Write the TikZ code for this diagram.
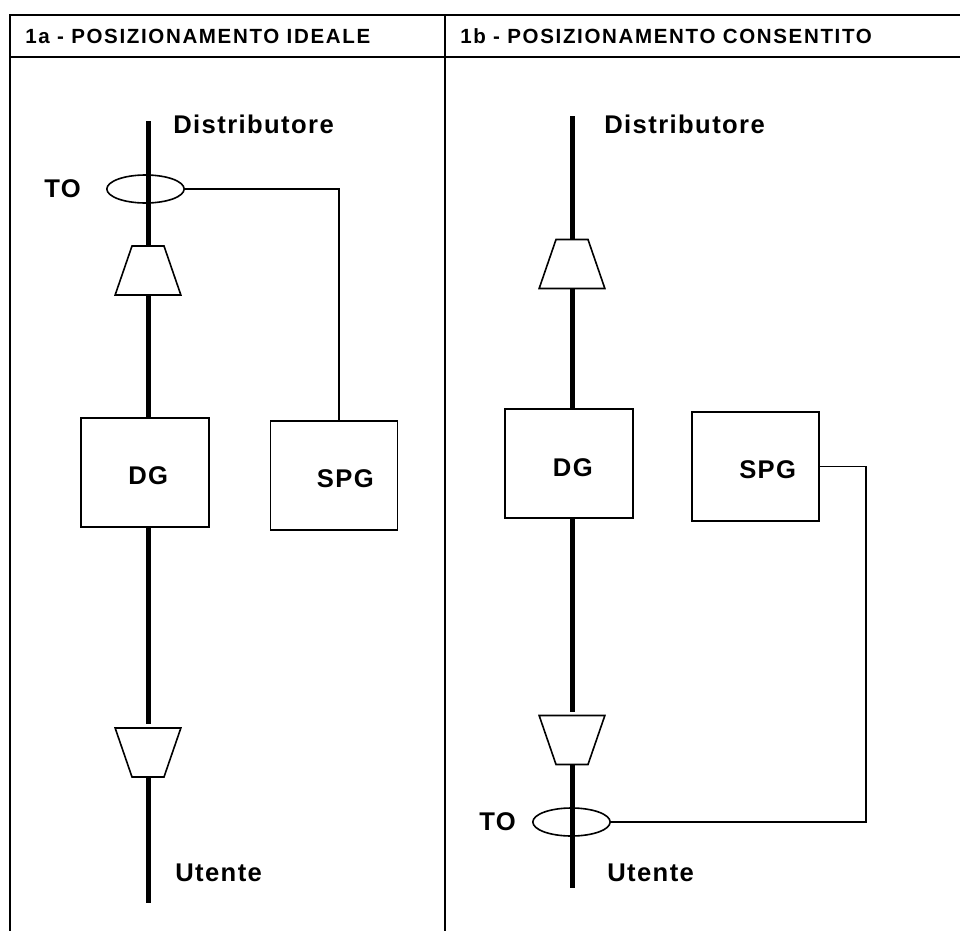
\documentclass[tikz,border=0pt]{standalone}
\usepackage{fontspec}
\setmainfont{Liberation Sans}[LetterSpace=5.5]
\newfontfamily\headfont[LetterSpace=8]{Liberation Sans}
\usepackage{xcolor}
\usetikzlibrary{arrows.meta,positioning,shapes.geometric,calc}

\tikzset{
  frameline/.style={line width=1.5pt},
  feeder/.style={line width=3.75pt},
  signal/.style={line width=1.2pt},
  headtext/.style={anchor=base west,inner sep=0pt,font=\headfont\fontsize{15.4}{17}\selectfont\bfseries},
  labeltext/.style={anchor=base west,inner sep=0pt,font=\fontsize{19.2}{22}\selectfont\bfseries},
  breaker/.style={draw,line width=1.5pt,minimum width=96pt,minimum height=81.5pt,inner sep=0pt,outer sep=0pt},
  relay/.style={draw,line width=1.2pt,minimum width=95.5pt,minimum height=81.5pt,inner sep=0pt,outer sep=0pt},
  sensor/.style={draw,ellipse,line width=1.2pt,minimum width=58pt,minimum height=21pt,inner sep=0pt,outer sep=0pt},
  trafo/.style={draw,trapezium,line width=1.2pt,inner xsep=12pt,inner ysep=18.35pt,
    trapezium left angle=71,trapezium right angle=71,outer sep=0pt},
}

\begin{document}
\begin{tikzpicture}[x=0.75pt,y=-0.75pt]
  \useasboundingbox (0,0) rectangle (960,931);

  % table round the two panels
  \coordinate (frameTL) at (10.3,15.3);
  \coordinate (frameTR) at (960,15.3);
  \coordinate (frameBL) at (10.3,931);
  \coordinate (frameML) at (10.3,57);
  \coordinate (frameMR) at (960,57);
  \coordinate (midT) at (445.3,15.3);
  \coordinate (midB) at (445.3,931);
  \draw[frameline] (frameBL)--(frameTL)--(frameTR);
  \draw[frameline] (frameML)--(frameMR);
  \draw[frameline] (midT)--(midB);
  \node[headtext] (titleA) at (25,44) {1a - POSIZIONAMENTO IDEALE};
  \node[headtext] (titleB) at (460,44) {1b - POSIZIONAMENTO CONSENTITO};

  % left panel: sensor on the supply side
  \coordinate (topA) at (148,121);
  \coordinate (botA) at (148,903);
  \coordinate (gapA) at (148,724);
  \coordinate (cornerA) at (339,189);
  \node[trafo] (trafoAup) at (148,270.5) {};
  \node[breaker] (dgA) at (144.7,472.8) {};
  \node[trafo,shape border rotate=180] (trafoAlo) at (148,752.5) {};
  \node[relay] (spgA) at (334,475.5) {};
  \node[sensor] (toA) at (145.5,189) {};
  \draw[feeder] (topA)--(trafoAup.north -| topA);
  \draw[feeder] (trafoAup.south -| topA)--(dgA.north -| topA);
  \draw[feeder] (dgA.south -| topA)--(gapA);
  \draw[feeder] (trafoAlo.south -| topA)--(botA);
  \draw[signal] (toA.east)--(cornerA)--(cornerA |- spgA.north);
  \node[labeltext] (distA) at (173,133.5) {Distributore};
  \node[labeltext] (toLabelA) at (44,197) {TO};
  \node[labeltext] (dgLabelA) at (128,484.3) {DG};
  \node[labeltext] (spgLabelA) at (316.7,487.3) {SPG};
  \node[labeltext] (utenteA) at (175,881) {Utente};

  % right panel: sensor on the user side
  \coordinate (topB) at (572,116);
  \coordinate (botB) at (572,888);
  \coordinate (gapB) at (572,712);
  \coordinate (cornerB) at (866,822);
  \node[trafo] (trafoBup) at (572,264) {};
  \node[breaker] (dgB) at (568.7,463.5) {};
  \node[trafo,shape border rotate=180] (trafoBlo) at (572,740) {};
  \node[relay] (spgB) at (755.5,466.5) {};
  \node[sensor] (toB) at (571.5,822) {};
  \draw[feeder] (topB)--(trafoBup.north -| topB);
  \draw[feeder] (trafoBup.south -| topB)--(dgB.north -| topB);
  \draw[feeder] (dgB.south -| topB)--(gapB);
  \draw[feeder] (trafoBlo.south -| topB)--(botB);
  \draw[signal] (toB.east)--(cornerB)--(cornerB |- spgB.east)--(spgB.east);
  \node[labeltext] (distB) at (604,133.5) {Distributore};
  \node[labeltext] (toLabelB) at (479,830) {TO};
  \node[labeltext] (dgLabelB) at (552.7,476.7) {DG};
  \node[labeltext] (spgLabelB) at (739,478.3) {SPG};
  \node[labeltext] (utenteB) at (607,881) {Utente};
\end{tikzpicture}
\end{document}
